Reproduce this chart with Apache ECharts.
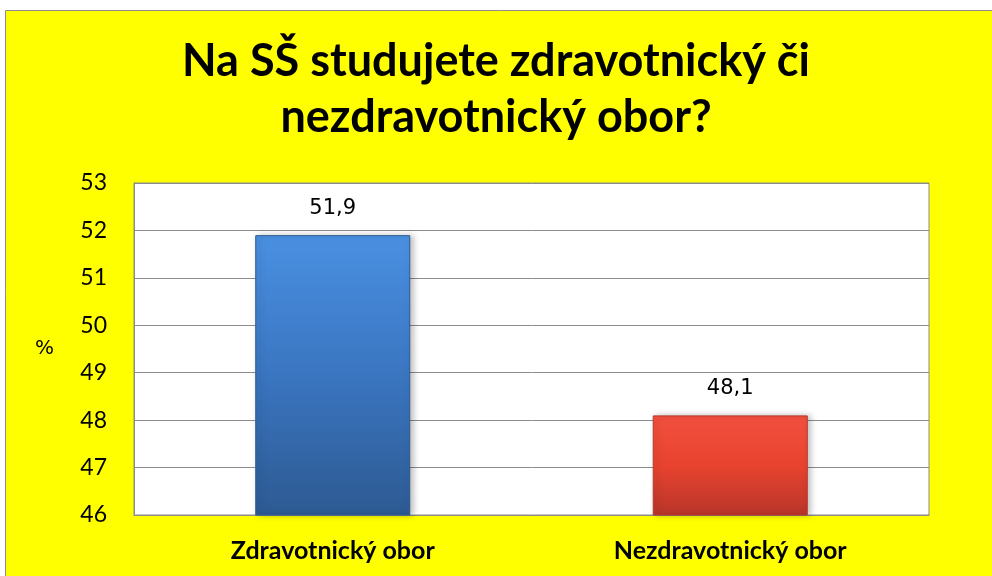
<!DOCTYPE html>
<html>
<head>
<meta charset="utf-8">
<script src="https://cdn.jsdelivr.net/npm/echarts@6/dist/echarts.min.js"></script>
<style>
  html, body { margin: 0; padding: 0; background: #ffffff; }
  #chart { width: 992px; height: 576px; }
</style>
</head>
<body>
<div id="chart"></div>
<script>
var categories = ['Zdravotnický obor', 'Nezdravotnický obor'];
var values = [51.9, 48.1];
var barColors = [
    ['#4a90e2', '#3a75c0', '#2d5a92'],  // modrá
    ['#f2503f', '#e8432f', '#b8352a']   // červená
];
var yMin = 46, yMax = 53, yStep = 1;

var myChart = echarts.init(document.getElementById('chart'));

var option = {
    backgroundColor: '#ffffff',
    animation: false,
    graphic: [{
        type: 'rect',
        z: -10,
        shape: { x: 5.5, y: 10.5, width: 1000, height: 600 },
        style: { fill: '#ffff00', stroke: '#8c8c8c', lineWidth: 1 }
    }],
    title: {
        text: 'Na SŠ studujete zdravotnický či\nnezdravotnický obor?',
        left: 'center',
        top: 28,
        textStyle: {
            fontFamily: 'Lato',
            fontWeight: 'bold',
            fontSize: 45,
            lineHeight: 56,
            color: '#000'
        }
    },
    grid: {
        left: 134, right: 63, top: 183, bottom: 61,
        show: true,
        backgroundColor: '#ffffff',
        borderColor: '#8c8c8c',
        borderWidth: 1
    },
    xAxis: {
        type: 'category',
        data: categories,
        axisTick: { show: false },
        axisLine: { lineStyle: { color: '#8c8c8c' } },
        axisLabel: {
            margin: 23,
            fontFamily: 'Lato',
            fontWeight: 'bold',
            fontSize: 25,
            color: '#000'
        }
    },
    yAxis: {
        type: 'value',
        min: yMin, max: yMax, interval: yStep,
        name: '%',
        nameLocation: 'middle',
        nameRotate: 0,
        nameGap: 80,
        nameTextStyle: { fontFamily: 'DejaVu Sans', fontSize: 20, color: '#000' },
        axisLine: { show: true, lineStyle: { color: '#8c8c8c' } },
        axisTick: { show: false },
        axisLabel: {
            margin: 27,
            fontFamily: 'Lato',
            fontSize: 23,
            color: '#000'
        },
        splitLine: { lineStyle: { color: '#8c8c8c', width: 1 } }
    },
    series: [{
        type: 'bar',
        barWidth: '39%',
        data: values.map(function (v, i) {
            var c = barColors[i];
            return {
                value: v,
                itemStyle: {
                    color: new echarts.graphic.LinearGradient(0, 0, 0, 1, [
                        { offset: 0, color: c[0] },
                        { offset: 0.5, color: c[1] },
                        { offset: 1, color: c[2] }
                    ]),
                    borderColor: c[2],
                    borderWidth: 1,
                    shadowColor: 'rgba(0,0,0,0.25)',
                    shadowBlur: 6,
                    shadowOffsetX: 3
                }
            };
        }),
        label: {
            show: true,
            position: 'top',
            distance: 16,
            fontFamily: 'DejaVu Sans',
            fontSize: 21,
            color: '#000',
            formatter: function (p) {
                return String(p.value).replace('.', ',');
            }
        }
    }]
};

myChart.setOption(option);
</script>
</body>
</html>
